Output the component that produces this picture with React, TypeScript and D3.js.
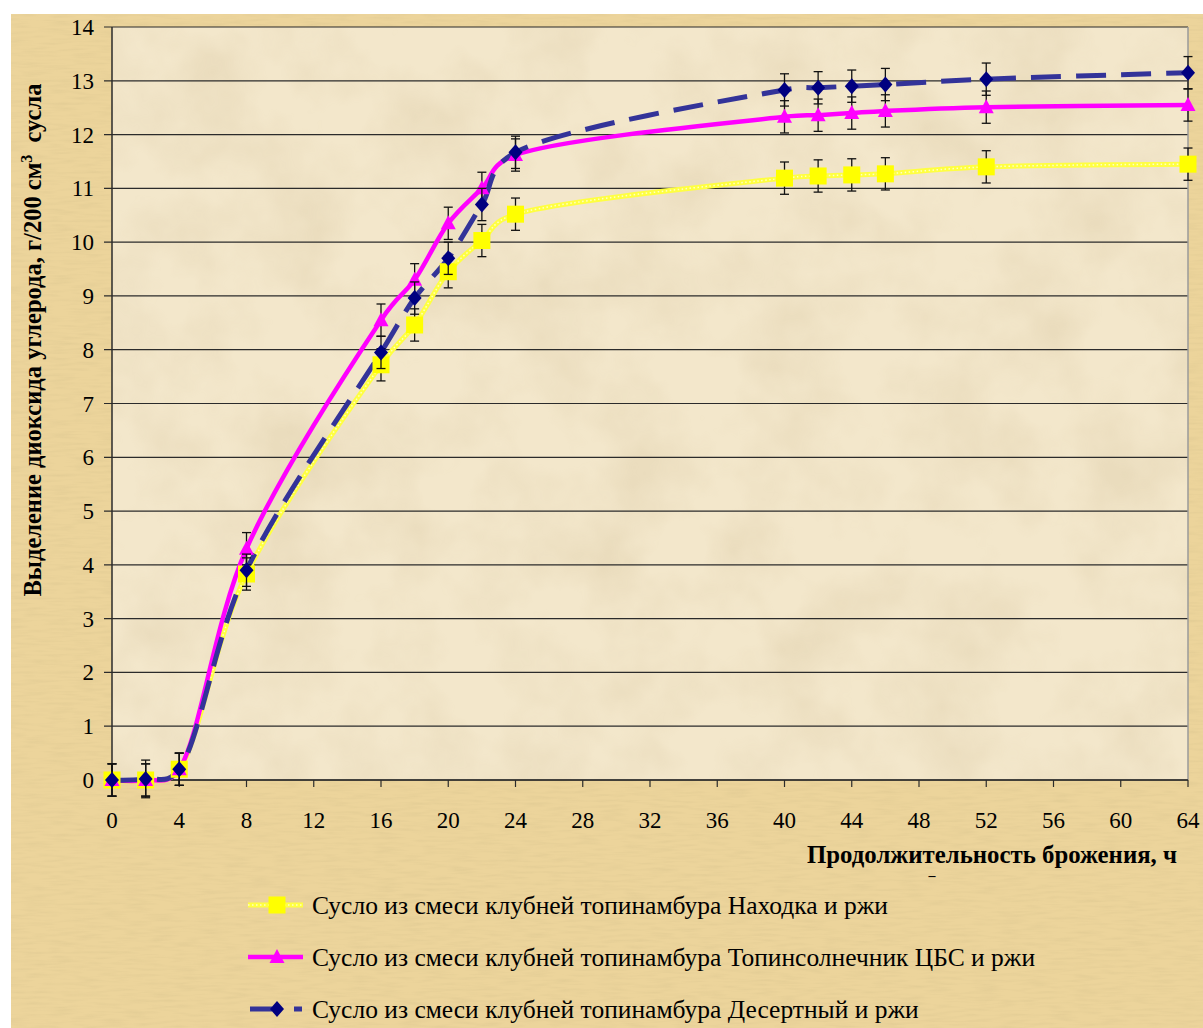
import * as d3 from "d3";

const WIDTH = 1203;
const HEIGHT = 1028;
const PLOT = { left: 112, right: 1188, top: 27, bottom: 780 };

// hours of fermentation
const hours = [0, 2, 4, 8, 16, 18, 20, 22, 24, 40, 42, 44, 46, 52, 64];
// CO2 released, g / 200 cm3 of wort
const nahodka = [0, 0, 0.2, 3.83, 7.72, 8.46, 9.45, 10.03, 10.52, 11.19, 11.23, 11.25, 11.27, 11.4, 11.45];
const topinsol = [0, 0, 0.2, 4.3, 8.55, 9.3, 10.35, 11.0, 11.62, 12.33, 12.36, 12.4, 12.44, 12.51, 12.55];
const desert = [0, 0.02, 0.2, 3.9, 7.95, 8.96, 9.7, 10.7, 11.67, 12.83, 12.87, 12.9, 12.93, 13.03, 13.15];
const errNahodka = [0.3, 0.3, 0.3, 0.3, 0.3, 0.3, 0.3, 0.3, 0.3, 0.3, 0.3, 0.3, 0.3, 0.3, 0.3];
const errTopinsol = [0.3, 0.3, 0.3, 0.3, 0.3, 0.3, 0.3, 0.3, 0.3, 0.3, 0.3, 0.3, 0.3, 0.3, 0.3];
const errDesert = [0.3, 0.35, 0.3, 0.3, 0.3, 0.3, 0.3, 0.3, 0.3, 0.3, 0.3, 0.3, 0.3, 0.3, 0.3];

const xTicks = d3.range(0, 65, 4);
const yTicks = d3.range(0, 15, 1);

const seriesNames = [
  "Сусло из смеси клубней топинамбура Находка и ржи",
  "Сусло из смеси клубней топинамбура Топинсолнечник ЦБС и ржи",
  "Сусло из смеси клубней топинамбура Десертный и ржи",
];

const FONT = "'Times New Roman', 'Liberation Serif', serif";

type Kind = "square" | "triangle" | "diamond";

interface Series {
  name: string;
  values: number[];
  errors: number[];
  kind: Kind;
}

const series: Series[] = [
  { name: seriesNames[0], values: nahodka, errors: errNahodka, kind: "square" },
  { name: seriesNames[1], values: topinsol, errors: errTopinsol, kind: "triangle" },
  { name: seriesNames[2], values: desert, errors: errDesert, kind: "diamond" },
];

const x = d3.scaleLinear().domain([0, 64]).range([PLOT.left, PLOT.right]);
const y = d3.scaleLinear().domain([0, 14]).range([PLOT.bottom, PLOT.top]);

// smoothed like Excel's "smoothed line"
const line = d3
  .line<[number, number]>()
  .x((d) => x(d[0]))
  .y((d) => y(d[1]))
  .curve(d3.curveCatmullRom.alpha(0.3));

function Marker({ kind, cx, cy }: { kind: Kind; cx: number; cy: number }) {
  if (kind === "square") {
    return <rect x={cx - 8.5} y={cy - 8.5} width={17} height={17} fill="#ffff00" />;
  }
  if (kind === "triangle") {
    return <path d={`M${cx},${cy - 8} L${cx + 7.5},${cy + 6} L${cx - 7.5},${cy + 6} Z`} fill="#ff00ff" />;
  }
  return <path d={`M${cx},${cy - 8} L${cx + 7},${cy} L${cx},${cy + 8} L${cx - 7},${cy} Z`} fill="#000080" />;
}

function SeriesLine({ s, d }: { s: Series; d: string }) {
  if (s.kind === "square") {
    return (
      <g>
        <path d={d} fill="none" stroke="#ffff40" strokeWidth={5} />
        <path d={d} fill="none" stroke="#ffffff" strokeWidth={1.5} strokeDasharray="1.5 2.5" opacity={0.7} />
      </g>
    );
  }
  if (s.kind === "triangle") {
    return <path d={d} fill="none" stroke="#ff00ff" strokeWidth={4.5} />;
  }
  return <path d={d} fill="none" stroke="#333399" strokeWidth={5} strokeDasharray="30 15" />;
}

export default function App() {
  const legendY = d3.scaleOrdinal<string, number>().domain(seriesNames).range([905, 957, 1009]);

  return (
    <div style={{ position: "absolute", left: 0, top: 0 }}>
      <svg width={WIDTH} height={HEIGHT} viewBox={`0 0 ${WIDTH} ${HEIGHT}`} style={{ display: "block" }}>
        <defs>
          <filter id="paper" x="0" y="0" width="100%" height="100%">
            <feTurbulence type="fractalNoise" baseFrequency="0.012" numOctaves="4" seed="3" result="noise" />
            <feColorMatrix
              in="noise"
              type="matrix"
              values="0 0 0 0 0.55  0 0 0 0 0.42  0 0 0 0 0.22  0 0 0 -1.6 1.0"
            />
          </filter>
          <filter id="fibre" x="0" y="0" width="100%" height="100%">
            <feTurbulence type="fractalNoise" baseFrequency="0.04 0.35" numOctaves="2" seed="7" result="noise" />
            <feColorMatrix
              in="noise"
              type="matrix"
              values="0 0 0 0 0.62  0 0 0 0 0.5  0 0 0 0 0.25  0 0 0 -1.8 1.05"
            />
          </filter>
        </defs>

        <rect width={WIDTH} height={HEIGHT} fill="#ffffff" />
        {/* outer parchment */}
        <rect x={11} y={14} width={WIDTH - 11} height={HEIGHT - 14} fill="#ecd49b" />
        <rect x={11} y={14} width={WIDTH - 11} height={HEIGHT - 14} filter="url(#fibre)" opacity={0.3} />
        {/* plot area */}
        <rect
          x={PLOT.left}
          y={PLOT.top}
          width={PLOT.right - PLOT.left}
          height={PLOT.bottom - PLOT.top}
          fill="#f3e7cb"
        />
        <rect
          x={PLOT.left}
          y={PLOT.top}
          width={PLOT.right - PLOT.left}
          height={PLOT.bottom - PLOT.top}
          filter="url(#paper)"
          opacity={0.25}
        />

        {/* gridlines */}
        {yTicks.map((t) => (
          <line key={`g${t}`} x1={PLOT.left - 8} x2={PLOT.right} y1={y(t)} y2={y(t)} stroke="#2b2b2b" strokeWidth={1.2} />
        ))}
        <line x1={PLOT.right} x2={PLOT.right} y1={PLOT.top} y2={PLOT.bottom} stroke="#9a9a9a" strokeWidth={1.5} />
        <line x1={PLOT.left} x2={PLOT.left} y1={PLOT.top} y2={PLOT.bottom} stroke="#2b2b2b" strokeWidth={1.5} />
        <line x1={PLOT.left} x2={PLOT.right} y1={PLOT.bottom} y2={PLOT.bottom} stroke="#2b2b2b" strokeWidth={1.5} />
        {xTicks.map((t) => (
          <line key={`xt${t}`} x1={x(t)} x2={x(t)} y1={PLOT.bottom} y2={PLOT.bottom + 7} stroke="#2b2b2b" strokeWidth={1.2} />
        ))}

        {/* tick labels */}
        <g fontFamily={FONT} fontSize={23} fill="#000">
          {yTicks.map((t) => (
            <text key={`yl${t}`} x={94} y={y(t)} dy="0.35em" textAnchor="end">
              {t}
            </text>
          ))}
          {xTicks.map((t) => (
            <text key={`xl${t}`} x={x(t)} y={828} textAnchor="middle">
              {t}
            </text>
          ))}
        </g>

        {/* axis titles */}
        <text
          transform="translate(41,340) rotate(-90)"
          textAnchor="middle"
          fontFamily={FONT}
          fontSize={24.5}
          fontWeight="bold"
          fill="#000"
        >
          Выделение диоксида углерода, г/200 см
          <tspan dy={-9} fontSize={16}>
            3
          </tspan>
          <tspan dy={9}>{"\u00a0 сусла"}</tspan>
        </text>
        <text x={1177} y={863} textAnchor="end" fontFamily={FONT} fontSize={24.8} fontWeight="bold" fill="#000">
          Продолжительность брожения, ч
        </text>
        <text x={932} y={880} textAnchor="middle" fontFamily={FONT} fontSize={14} fontWeight="bold" fill="#000">
          –
        </text>

        {/* series lines */}
        {series.map((s) => {
          const pts = hours.map((h, i) => [h, s.values[i]] as [number, number]);
          return <SeriesLine key={`l${s.name}`} s={s} d={line(pts) ?? ""} />;
        })}

        {/* error bars + markers */}
        {series.map((s) => (
          <g key={`m${s.name}`}>
            {hours.map((h, i) => {
              const cx = x(h);
              const lo = y(s.values[i] - s.errors[i]);
              const hi = y(s.values[i] + s.errors[i]);
              return (
                <g key={h} stroke="#111" strokeWidth={1.3}>
                  <line x1={cx} x2={cx} y1={lo} y2={hi} />
                  <line x1={cx - 4.5} x2={cx + 4.5} y1={lo} y2={lo} />
                  <line x1={cx - 4.5} x2={cx + 4.5} y1={hi} y2={hi} />
                </g>
              );
            })}
            {hours.map((h, i) => (
              <Marker key={`mk${h}`} kind={s.kind} cx={x(h)} cy={y(s.values[i])} />
            ))}
          </g>
        ))}

        {/* legend */}
        {series.map((s) => {
          const ly = legendY(s.name);
          return (
            <g key={`lg${s.name}`}>
              {s.kind === "diamond" ? (
                <g>
                  <line x1={250} x2={272} y1={ly} y2={ly} stroke="#333399" strokeWidth={5} />
                  <line x1={294} x2={302} y1={ly} y2={ly} stroke="#333399" strokeWidth={5} />
                </g>
              ) : (
                <SeriesLine s={s} d={`M248,${ly} L303,${ly}`} />
              )}
              <Marker kind={s.kind} cx={277} cy={ly} />
              <text x={312} y={ly} dy="0.35em" fontFamily={FONT} fontSize={25.5} fill="#000">
                {s.name}
              </text>
            </g>
          );
        })}
      </svg>
    </div>
  );
}
